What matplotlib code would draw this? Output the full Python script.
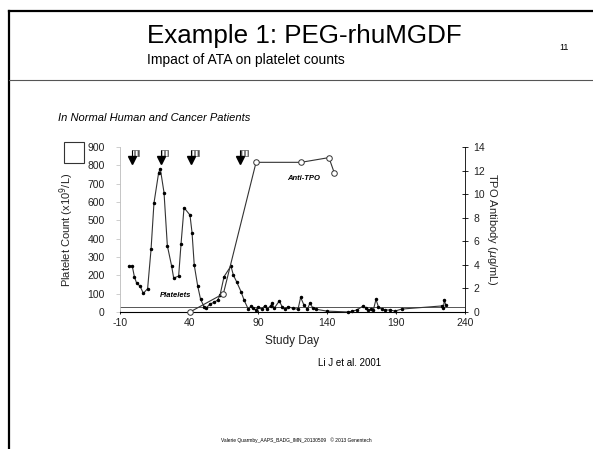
import matplotlib
matplotlib.use("Agg")
import matplotlib.pyplot as plt
from matplotlib.lines import Line2D
from matplotlib.patches import Rectangle
import numpy as np

plt.rcParams['font.family'] = ['Liberation Sans', 'DejaVu Sans']
plt.rcParams['axes.unicode_minus'] = False

# platelet count (x10^9/L) by study day
plt_days = [-3.3, -1.1, 0.4, 2.1, 4.5, 6.9, 10.0, 12.5, 14.6, 18.0, 19.2, 21.9, 24.3,
            27.4, 28.9, 32.5, 34.2, 36.4, 40.7, 42.2, 43.8, 46.3, 48.4, 50.9, 52.3,
            55.2, 58.0, 60.8, 62.5, 65.4, 70.4, 72.1, 74.5, 77.7, 79.9, 83.0, 85.0,
            86.7, 88.6, 90.2, 92.6, 95.0, 96.7, 99.1, 100.3, 101.7, 105.4, 107.5,
            109.4, 111.8, 115.4, 119.0, 120.9, 123.3, 125.7, 127.6, 130.0, 132.0,
            139.8, 155.4, 158.0, 161.5, 166.3, 168.2, 170.0, 171.7, 173.6, 175.5,
            177.2, 179.6, 182.0, 185.7, 189.3, 194.1, 223.1, 224.3, 225.0, 226.0]
plt_counts = [250, 250, 193, 156, 142, 102, 127, 342, 593, 760, 782, 651, 362,
              251, 185, 196, 369, 569, 529, 433, 256, 142, 69, 29, 20,
              44, 52, 65, 93, 193, 251, 202, 165, 111, 65, 15, 33,
              20, 11, 29, 15, 35, 15, 35, 47, 20, 60, 29,
              15, 29, 20, 15, 80, 38, 15, 47, 20, 15,
              5, 0, 4, 11, 33, 22, 11, 16, 11, 69,
              29, 16, 11, 11, 5, 16, 33, 20, 65, 40]

# anti-TPO antibody (ug/mL)
tpo_days = [40.7, 64.9, 88.6, 121.2, 141.4, 145.3]
tpo_vals = [0.0, 1.55, 12.7, 12.7, 13.1, 11.8]

# PEG-rhuMGDF dosing days
dose_days = [-1.5, 19.5, 41.5, 77.3]

threshold = 25

fig = plt.figure(figsize=(5.93, 4.49), dpi=100)

# slide frame
fig.add_artist(Line2D([9 / 593, 1], [1 - 11 / 449] * 2, color='black', lw=1.6))
fig.add_artist(Line2D([9 / 593] * 2, [0, 1 - 11 / 449], color='black', lw=1.6))
fig.add_artist(Line2D([9 / 593, 1], [1 - 80 / 449] * 2, color='#555555', lw=0.8))

fig.text(147 / 593, 1 - 43 / 449, "Example 1: PEG-rhuMGDF", fontsize=18.7, va='baseline')
fig.text(147 / 593, 1 - 64 / 449, "Impact of ATA on platelet counts", fontsize=10, va='baseline')
fig.text(564 / 593, 1 - 50 / 449, "11", fontsize=6.5, ha='center', va='baseline')
fig.text(58 / 593, 1 - 121 / 449, "In Normal Human and Cancer Patients", fontsize=8,
         style='italic', va='baseline')
fig.add_artist(Rectangle((64 / 593, 1 - 163 / 449), 20 / 593, 21 / 449, fill=False,
                         lw=0.8, edgecolor='#333333', transform=fig.transFigure))

ax = fig.add_axes([120 / 593, 1 - 312 / 449, 345 / 593, 165 / 449])
ax.set_xlim(-10, 240)
ax.set_ylim(0, 900)
ax.set_xticks(np.arange(-10, 241, 50))
ax.set_yticks(np.arange(0, 901, 100))
ax.spines['top'].set_visible(False)
ax.spines['right'].set_visible(False)
ax.spines['left'].set_color('#bbbbbb')
ax.spines['left'].set_linewidth(0.6)
ax.spines['bottom'].set_linewidth(0.8)
ax.tick_params(axis='y', length=3, width=0.5, color='#bbbbbb', labelsize=7.5, pad=8,
               labelcolor='#222222')
ax.tick_params(axis='x', length=3, width=0.6, direction='inout', labelsize=7.5, pad=3,
               labelcolor='#222222')
ax.set_ylabel("Platelet Count (x10$^9$/L)", fontsize=8, labelpad=8, color='#222222')
ax.set_xlabel("Study Day", fontsize=8.5, labelpad=5, color='#222222')

ax.axhline(threshold, color='#555555', lw=0.7, zorder=1)
ax.plot(plt_days, plt_counts, color='#333333', lw=0.8, marker='o', ms=1.5,
        mfc='black', mec='black', zorder=3, clip_on=False)

# dosing arrows
ax.plot(dose_days, [830] * len(dose_days), 'v', color='black', ms=5.5, zorder=4)
ax.vlines(dose_days, 830, 885, color='black', lw=0.8)
for d in dose_days:
    ax.add_patch(Rectangle((d, 852), 5.5, 33, fill=False, hatch='|||||', lw=0.5,
                           edgecolor='#555555'))

ax.text(30, 80, "Platelets", fontsize=5.5, style='italic', weight='bold', ha='center')

ax2 = ax.twinx()
ax2.set_ylim(0, 14)
ax2.set_yticks(np.arange(0, 15, 2))
ax2.spines['top'].set_visible(False)
ax2.spines['left'].set_visible(False)
ax2.spines['bottom'].set_visible(False)
ax2.spines['right'].set_linewidth(0.6)
ax2.tick_params(axis='y', length=4, width=0.6, direction='inout', labelsize=7.5, pad=4,
                labelcolor='#222222')
ax2.set_ylabel("TPO Antibody ($\\mu$g/mL)", fontsize=8, rotation=270, labelpad=10,
               color='#222222')
ax2.plot(tpo_days, tpo_vals, color='#333333', lw=0.8, marker='o', ms=4,
         mfc='white', mec='#333333', mew=0.7, zorder=3, clip_on=False)
ax2.text(123, 11.2, "Anti-TPO", fontsize=5.5, style='italic', weight='bold', ha='center')

fig.text(318 / 593, 1 - 366 / 449, "Li J et al. 2001", fontsize=7, va='baseline')
fig.text(296 / 593, 1 - 442 / 449,
         "Valerie Quarmby_AAPS_BADG_IMN_20130509   \u00a9 2013 Genentech",
         fontsize=3.5, ha='center', va='baseline')

fig.savefig("out.png", dpi=100)
